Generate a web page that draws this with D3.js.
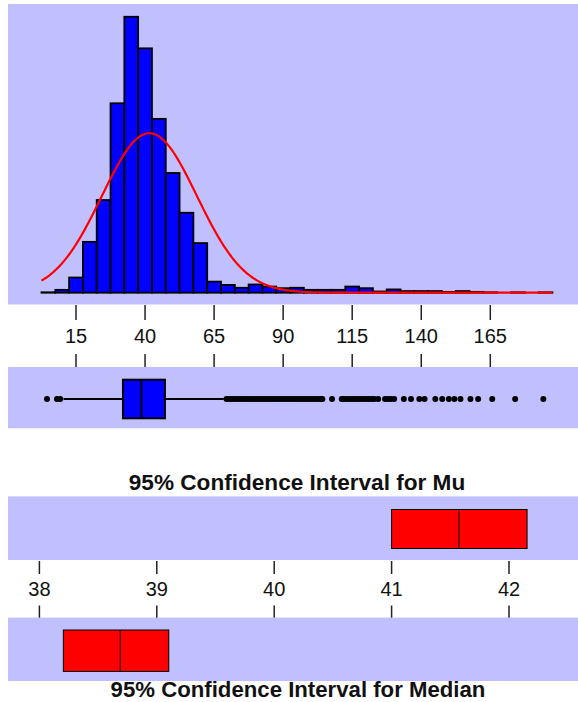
<!DOCTYPE html>
<html>
<head>
<meta charset="utf-8">
<script src="https://cdn.jsdelivr.net/npm/d3@7/dist/d3.min.js"></script>
<style>
  html, body { margin: 0; padding: 0; background: #ffffff; }
  svg { display: block; }
  text { font-family: "Liberation Sans", Arial, sans-serif; fill: #111; }
</style>
</head>
<body>
<script>
// ---- Data ----
// Histogram bins (lower edges, width 5) and counts
const binLow = [2.5, 7.5, 12.5, 17.5, 22.5, 27.5, 32.5, 37.5, 42.5, 47.5, 52.5, 57.5,
  62.5, 67.5, 72.5, 77.5, 82.5, 87.5, 92.5, 97.5, 102.5, 107.5, 112.5, 117.5, 122.5,
  127.5, 132.5, 137.5, 142.5, 147.5, 152.5, 157.5, 162.5, 167.5, 172.5, 177.5, 182.5];
const binCount = [1, 7, 37, 124, 226, 462, 673, 596, 424, 292, 195, 121,
  27, 19, 12, 20, 15, 11, 12, 7, 7, 7, 15, 11, 3,
  8, 4, 4, 4, 2, 4, 2, 1, 0, 1, 0, 1];
const binWidth = 5;

// Summary statistics
const sampleMean = 41.58;
const sampleSd = 17.2;

// Boxplot
const boxQ1 = 32.0, boxMedian = 38.7, boxQ3 = 47.2;
const whiskerLow = 10.5, whiskerHigh = 68.5;
const lowOutliers = [4.5, 8.1, 9.3];
const highOutliers = [69.5, 70.5, 71.5, 72.5, 73.5, 74.5, 75.5, 76.5, 77.5, 78.5, 79.5,
  80.5, 81.5, 82.5, 83.5, 84.5, 85.5, 86.5, 87.5, 88.5, 89.5, 90.5, 91.5, 92.5, 93.5,
  94.5, 95.5, 96.5, 97.5, 98.5, 99.5, 100.5, 101.5, 102.5, 103.5, 104.2,
  107.7,
  111.2, 112, 113, 114, 115, 116, 117, 118, 119, 120, 121, 122, 123, 124.4,
  126.9, 128, 129, 130.2,
  133.7, 136.3, 139.3, 141.2, 145.1, 147.6, 150.0, 152.0, 154.2, 157.8, 160.6,
  165.7, 174.0, 184.2];
const histTicks = [15, 40, 65, 90, 115, 140, 165];

// Confidence intervals: [lower, estimate, upper]
const muCI = [41.0, 41.573, 42.154];
const medianCI = [38.204, 38.688, 39.102];
const ciTicks = [38, 39, 40, 41, 42];
const muTitle = "95% Confidence Interval for Mu";
const medianTitle = "95% Confidence Interval for Median";

// ---- Drawing ----
const W = 578, H = 702;
const panelFill = "#c0c0ff";
const svg = d3.select("body").append("svg").attr("width", W).attr("height", H);

const x = d3.scaleLinear().domain([15, 165]).range([76, 490.3]);
const y = d3.scaleLinear().domain([0, 700]).range([292.7, 5.7]);

// Histogram panel
svg.append("rect").attr("x", 8).attr("y", 4).attr("width", W - 8).attr("height", 300.5)
  .attr("fill", panelFill);

const bins = binLow.map((lo, i) => ({ lo, hi: lo + binWidth, n: binCount[i] }));
svg.append("g").selectAll("rect").data(bins).join("rect")
  .attr("x", d => x(d.lo))
  .attr("y", d => y(d.n))
  .attr("width", d => x(d.hi) - x(d.lo))
  .attr("height", d => y(0) - y(d.n))
  .attr("fill", "#0000ff")
  .attr("stroke", "#000")
  .attr("stroke-width", 1.8);

// Fitted normal curve scaled to counts
const total = d3.sum(binCount);
const normal = v => total * binWidth / (sampleSd * Math.sqrt(2 * Math.PI)) *
  Math.exp(-0.5 * Math.pow((v - sampleMean) / sampleSd, 2));
const curvePts = d3.range(binLow[0], binLow[binLow.length - 1] + binWidth + 0.01, 0.5);
svg.append("path")
  .datum(curvePts)
  .attr("d", d3.line().x(v => x(v)).y(v => y(normal(v))))
  .attr("fill", "none")
  .attr("stroke", "#ff0000")
  .attr("stroke-width", 2.2);

// Shared value axis between histogram and boxplot
const histAxis = svg.append("g");
histTicks.forEach(t => {
  histAxis.append("line").attr("x1", x(t)).attr("x2", x(t)).attr("y1", 305).attr("y2", 320)
    .attr("stroke", "#222").attr("stroke-width", 1.5);
  histAxis.append("line").attr("x1", x(t)).attr("x2", x(t)).attr("y1", 354).attr("y2", 367)
    .attr("stroke", "#222").attr("stroke-width", 1.5);
  histAxis.append("text").attr("x", x(t)).attr("y", 343).attr("text-anchor", "middle")
    .attr("font-size", 20).text(t);
});

// Boxplot panel
svg.append("rect").attr("x", 8).attr("y", 367).attr("width", W - 8).attr("height", 61.3)
  .attr("fill", panelFill);
const by = 399, bTop = 379.7, bBot = 418.3;
svg.append("line").attr("x1", x(whiskerLow)).attr("x2", x(boxQ1)).attr("y1", by).attr("y2", by)
  .attr("stroke", "#000").attr("stroke-width", 2);
svg.append("line").attr("x1", x(boxQ3)).attr("x2", x(whiskerHigh)).attr("y1", by).attr("y2", by)
  .attr("stroke", "#000").attr("stroke-width", 2);
svg.append("rect").attr("x", x(boxQ1)).attr("y", bTop)
  .attr("width", x(boxQ3) - x(boxQ1)).attr("height", bBot - bTop)
  .attr("fill", "#0000ff").attr("stroke", "#000").attr("stroke-width", 2);
svg.append("line").attr("x1", x(boxMedian)).attr("x2", x(boxMedian)).attr("y1", bTop).attr("y2", bBot)
  .attr("stroke", "#000").attr("stroke-width", 2);
svg.append("g").selectAll("circle").data(lowOutliers.concat(highOutliers)).join("circle")
  .attr("cx", d => x(d)).attr("cy", by).attr("r", 3).attr("fill", "#000");

// Confidence interval panels
const cx = d3.scaleLinear().domain([38, 42]).range([39.4, 509]);

svg.append("text").attr("x", 297).attr("y", 490).attr("text-anchor", "middle")
  .attr("font-size", 22.6).attr("font-weight", "bold").text(muTitle);

svg.append("rect").attr("x", 8).attr("y", 496.4).attr("width", W - 8).attr("height", 63.6)
  .attr("fill", panelFill);
function ciBox(ci, top, bottom) {
  svg.append("rect").attr("x", cx(ci[0])).attr("y", top)
    .attr("width", cx(ci[2]) - cx(ci[0])).attr("height", bottom - top)
    .attr("fill", "#ff0000").attr("stroke", "#000").attr("stroke-width", 1);
  svg.append("line").attr("x1", cx(ci[1])).attr("x2", cx(ci[1])).attr("y1", top).attr("y2", bottom)
    .attr("stroke", "#000").attr("stroke-width", 1);
}
ciBox(muCI, 509.5, 548.5);

const ciAxis = svg.append("g");
ciTicks.forEach(t => {
  ciAxis.append("line").attr("x1", cx(t)).attr("x2", cx(t)).attr("y1", 561).attr("y2", 574)
    .attr("stroke", "#222").attr("stroke-width", 1.5);
  ciAxis.append("line").attr("x1", cx(t)).attr("x2", cx(t)).attr("y1", 605.5).attr("y2", 618)
    .attr("stroke", "#222").attr("stroke-width", 1.5);
  ciAxis.append("text").attr("x", cx(t)).attr("y", 596).attr("text-anchor", "middle")
    .attr("font-size", 20).text(t);
});

svg.append("rect").attr("x", 8).attr("y", 617.6).attr("width", W - 8).attr("height", 63.4)
  .attr("fill", panelFill);
ciBox(medianCI, 630, 671.4);

svg.append("text").attr("x", 298).attr("y", 697).attr("text-anchor", "middle")
  .attr("font-size", 22.2).attr("font-weight", "bold").text(medianTitle);
</script>
</body>
</html>
